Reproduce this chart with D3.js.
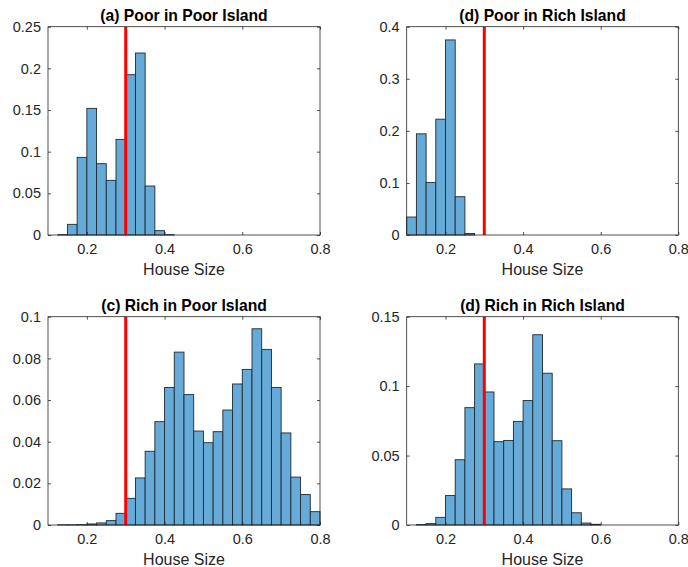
<!DOCTYPE html>
<html>
<head>
<meta charset="utf-8">
<script src="https://cdn.jsdelivr.net/npm/d3@7"></script>
<style>
  html, body { margin: 0; padding: 0; background: #fff; }
  svg { display: block; font-family: "Liberation Sans", Arial, Helvetica, sans-serif; }
</style>
</head>
<body>
<svg id="chart" width="688" height="567"></svg>
<script>
// Histogram bin edges shared by all four panels (house size)
const binEdges = [0.1, 0.125, 0.15, 0.175, 0.2, 0.225, 0.25, 0.275, 0.3, 0.325,
  0.35, 0.375, 0.4, 0.425, 0.45, 0.475, 0.5, 0.525, 0.55, 0.575,
  0.6, 0.625, 0.65, 0.675, 0.7, 0.725, 0.75, 0.775, 0.8];

// Probability per bin (null = no bin drawn)
const poorInPoor = [null, 0.0004, 0.0128, 0.0932, 0.152, 0.0856, 0.0656, 0.1148, 0.1924, 0.2184,
  0.0588, 0.0052, 0.0004, null, null, null, null, null, null, null,
  null, null, null, null, null, null, null, null];
const poorInRich = [0.0345, 0.1943, 0.101, 0.2224, 0.3746, 0.0735, 0.003, null, null, null,
  null, null, null, null, null, null, null, null, null, null,
  null, null, null, null, null, null, null, null];
const richInPoor = [null, 0.0001, 0.0001, 0.0002, 0.0005, 0.001, 0.0021, 0.0056, 0.0128, 0.0226,
  0.0354, 0.0496, 0.066, 0.083, 0.0626, 0.0451, 0.0395, 0.0448, 0.0552, 0.0677,
  0.0747, 0.0942, 0.0843, 0.066, 0.0442, 0.023, 0.0146, 0.0064];
const richInRich = [null, 0.0003, 0.001, 0.0055, 0.0212, 0.047, 0.0845, 0.116, 0.0958, 0.06,
  0.0609, 0.0746, 0.0896, 0.137, 0.1093, 0.0607, 0.026, 0.0088, 0.0014, 0.0005,
  null, null, null, null, null, null, null, null];

// Threshold marked by the red line
const threshold = 0.3;

// Axis ticks
const xTicks = [0.2, 0.4, 0.6, 0.8];
const yTicksPoorPoor = [0, 0.05, 0.1, 0.15, 0.2, 0.25];
const yTicksPoorRich = [0, 0.1, 0.2, 0.3, 0.4];
const yTicksRichPoor = [0, 0.02, 0.04, 0.06, 0.08, 0.1];
const yTicksRichRich = [0, 0.05, 0.1, 0.15];

const titles = ["(a) Poor in Poor Island", "(d) Poor in Rich Island",
  "(c) Rich in Poor Island", "(d) Rich in Rich Island"];
const xLabel = "House Size";

const panels = [
  { title: titles[0], values: poorInPoor, yTicks: yTicksPoorPoor, col: 0, row: 0 },
  { title: titles[1], values: poorInRich, yTicks: yTicksPoorRich, col: 1, row: 0 },
  { title: titles[2], values: richInPoor, yTicks: yTicksRichPoor, col: 0, row: 1 },
  { title: titles[3], values: richInRich, yTicks: yTicksRichRich, col: 1, row: 1 }
];

const colX = [[48, 320], [406.7, 678.3]];
const rowY = [[26.7, 235], [316.7, 525]];

const axisColor = "#262626";
const barFill = "#66aad7";
const tickLen = 3;

const svg = d3.select("#chart");

panels.forEach(p => {
  const [x0, x1] = colX[p.col];
  const [y0, y1] = rowY[p.row];
  const yMax = p.yTicks[p.yTicks.length - 1];

  const x = d3.scaleLinear().domain([binEdges[0], binEdges[binEdges.length - 1]]).range([x0, x1]);
  const y = d3.scaleLinear().domain([0, yMax]).range([y1, y0]);

  const g = svg.append("g");

  const bins = p.values
    .map((v, i) => ({ lo: binEdges[i], hi: binEdges[i + 1], v }))
    .filter(d => d.v !== null);

  g.append("g").selectAll("rect")
    .data(bins)
    .join("rect")
    .attr("x", d => x(d.lo))
    .attr("y", d => y(d.v))
    .attr("width", d => x(d.hi) - x(d.lo))
    .attr("height", d => y(0) - y(d.v))
    .attr("fill", barFill)
    .attr("stroke", "#1f2a33")
    .attr("stroke-width", 0.9);

  // Threshold line
  g.append("line")
    .attr("x1", x(threshold)).attr("x2", x(threshold))
    .attr("y1", y(0)).attr("y2", y(yMax))
    .attr("stroke", "#ff0000")
    .attr("stroke-width", 3);

  const fmt = d3.format("~g");

  const styleAxis = sel => {
    sel.select(".domain").remove();
    sel.selectAll(".tick line").attr("stroke", axisColor).attr("stroke-width", 0.8);
    sel.selectAll(".tick text").attr("fill", axisColor).style("font-size", "14.5px");
  };

  g.append("g")
    .attr("transform", `translate(0,${y1})`)
    .call(d3.axisBottom(x).tickValues(xTicks).tickFormat(fmt).tickSize(-tickLen).tickPadding(8.5))
    .call(styleAxis);
  g.append("g")
    .attr("transform", `translate(0,${y0})`)
    .call(d3.axisTop(x).tickValues(xTicks).tickFormat("").tickSize(-tickLen))
    .call(styleAxis);
  g.append("g")
    .attr("transform", `translate(${x0},0)`)
    .call(d3.axisLeft(y).tickValues(p.yTicks).tickFormat(fmt).tickSize(-tickLen).tickPadding(7))
    .call(styleAxis);
  g.append("g")
    .attr("transform", `translate(${x1},0)`)
    .call(d3.axisRight(y).tickValues(p.yTicks).tickFormat("").tickSize(-tickLen))
    .call(styleAxis);

  // Axes box
  g.append("rect")
    .attr("x", x0).attr("y", y0)
    .attr("width", x1 - x0).attr("height", y1 - y0)
    .attr("fill", "none")
    .attr("stroke", axisColor)
    .attr("stroke-width", 0.8);

  // Title
  g.append("text")
    .attr("x", (x0 + x1) / 2)
    .attr("y", y0 - 6)
    .attr("text-anchor", "middle")
    .attr("font-weight", "bold")
    .attr("font-size", "15.7px")
    .attr("fill", "#000")
    .text(p.title);

  // X label
  g.append("text")
    .attr("x", (x0 + x1) / 2)
    .attr("y", y1 + 40)
    .attr("text-anchor", "middle")
    .attr("font-size", "16px")
    .attr("fill", axisColor)
    .text(xLabel);
});
</script>
</body>
</html>
